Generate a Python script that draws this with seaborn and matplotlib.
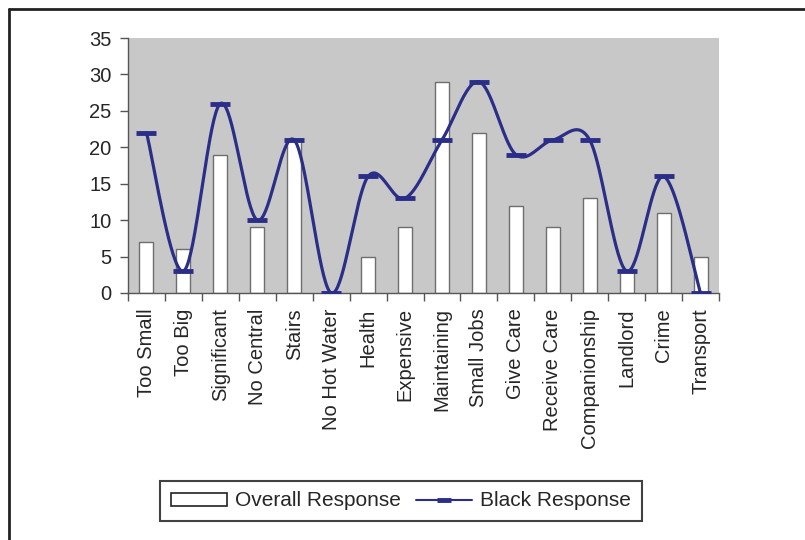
import numpy as np
import pandas as pd
import matplotlib
matplotlib.use("Agg")
import matplotlib.pyplot as plt
from matplotlib.lines import Line2D
from matplotlib.patches import Patch
import seaborn as sns

categories = ["Too Small", "Too Big", "Significant", "No Central", "Stairs",
              "No Hot Water", "Health", "Expensive", "Maintaining", "Small Jobs",
              "Give Care", "Receive Care", "Companionship", "Landlord", "Crime",
              "Transport"]
overall_response = [7, 6, 19, 9, 21, 0, 5, 9, 29, 22, 12, 9, 13, 3, 11, 5]
black_response = [22, 3, 26, 10, 21, 0, 16, 13, 21, 29, 19, 21, 21, 3, 16, 0]
y_ticks = [0, 5, 10, 15, 20, 25, 30, 35]

sns.set_theme(style="white")
plt.rcParams["font.family"] = ["Liberation Sans", "DejaVu Sans"]

NAVY = "#2B2E88"
FS = 14.5

fig = plt.figure(figsize=(8.05, 5.40), dpi=100)
ax = fig.add_axes([128 / 805, 1 - 293 / 540, (719 - 128) / 805, (293 - 38) / 540])
ax.set_facecolor("#C8C8C8")

df = pd.DataFrame({"category": categories, "overall": overall_response})
sns.barplot(data=df, x="category", y="overall", color="white", edgecolor="#6E6E6E",
            linewidth=1.0, width=0.38, saturation=1, ax=ax, zorder=2)

# Smoothed line (Catmull-Rom style Bezier, similar to spreadsheet smoothing)
n = len(black_response)
px = np.arange(n, dtype=float)
py = np.array(black_response, dtype=float)
xs, ys = [], []
t = np.linspace(0, 1, 40)
for i in range(n - 1):
    i0 = max(i - 1, 0)
    i3 = min(i + 2, n - 1)
    p0 = np.array([px[i], py[i]])
    p3 = np.array([px[i + 1], py[i + 1]])
    c1 = p0 + (np.array([px[i + 1], py[i + 1]]) - np.array([px[i0], py[i0]])) / 6
    c2 = p3 - (np.array([px[i3], py[i3]]) - np.array([px[i], py[i]])) / 6
    tt = t if i == 0 else t[1:]
    b = ((1 - tt) ** 3)[:, None] * p0 + (3 * (1 - tt) ** 2 * tt)[:, None] * c1 \
        + (3 * (1 - tt) * tt ** 2)[:, None] * c2 + (tt ** 3)[:, None] * p3
    xs.extend(b[:, 0]); ys.extend(b[:, 1])

sns.lineplot(x=xs, y=ys, sort=False, estimator=None, color=NAVY, linewidth=2.3,
             ax=ax, zorder=3)
ax.plot(px, py, linestyle="none", marker="_", markersize=15, markeredgewidth=3.5,
        color=NAVY, zorder=4)

ax.set_xlim(-0.5, n - 0.5)
ax.set_ylim(0, 35)
ax.set_yticks(y_ticks)
ax.set_yticklabels([str(v) for v in y_ticks], fontsize=FS)
ax.set_xticks(range(n))
ax.set_xticklabels(categories, rotation=90, fontsize=FS, va="top", ha="center")
ax.set_xticks(np.arange(-0.5, n, 1.0), minor=True)
ax.tick_params(axis="x", which="major", length=0, pad=11)
ax.tick_params(axis="x", which="minor", length=6, width=1, color="#555555",
               direction="out", bottom=True)
ax.tick_params(axis="y", length=6, width=1, color="#555555", direction="out",
               left=True, pad=6)
ax.set_xlabel("")
ax.set_ylabel("")
for s in ["top", "right"]:
    ax.spines[s].set_visible(False)
for s in ["left", "bottom"]:
    ax.spines[s].set_color("#555555")
    ax.spines[s].set_linewidth(1.0)

# Figure frame (top and left edges visible)
fig.add_artist(Line2D([9 / 805, 1.0], [1 - 9 / 540, 1 - 9 / 540],
                      color="#222222", linewidth=2.0, transform=fig.transFigure))
fig.add_artist(Line2D([9 / 805, 9 / 805], [0.0, 1 - 9 / 540],
                      color="#222222", linewidth=2.0, transform=fig.transFigure))

handles = [Patch(facecolor="white", edgecolor="#222222", linewidth=1.2),
           Line2D([0], [0], color=NAVY, linewidth=1.5, marker="_",
                  markersize=10, markeredgewidth=3.5)]
leg = fig.legend(handles, ["Overall Response", "Black Response"], loc="center",
                 bbox_to_anchor=(401 / 805, 1 - 501 / 540), ncol=2, fontsize=15,
                 frameon=True, fancybox=False, edgecolor="#111111",
                 handlelength=2.7, handleheight=0.6, handletextpad=0.4,
                 columnspacing=0.7, borderpad=0.5, borderaxespad=0)
leg.get_frame().set_linewidth(1.5)

fig.savefig("out.png", dpi=100, facecolor="white")
